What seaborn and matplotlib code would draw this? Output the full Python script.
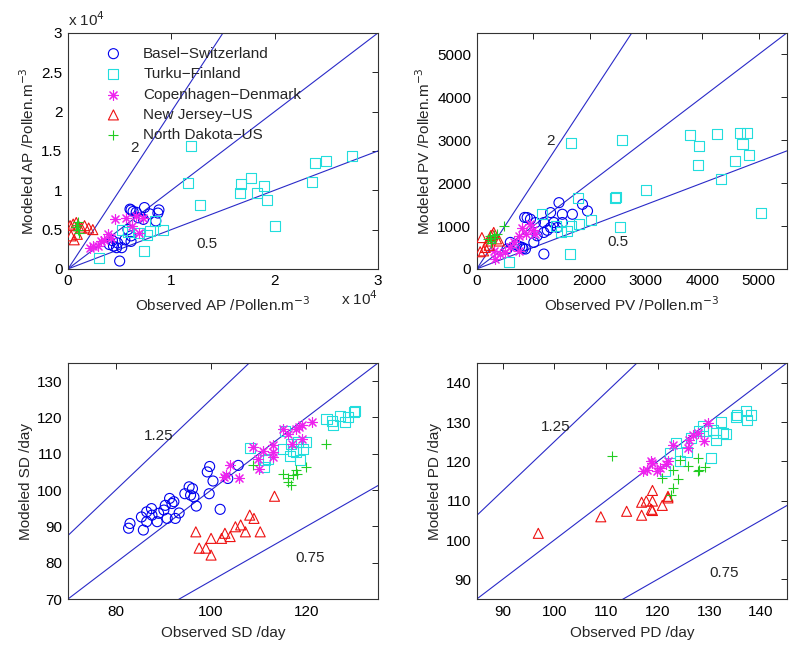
import numpy as np
import pandas as pd
import seaborn as sns
import matplotlib
matplotlib.use("Agg")
import matplotlib.pyplot as plt
from matplotlib.ticker import FuncFormatter, FixedLocator

sns.set_theme(style="white")
plt.rcParams['font.family'] = ['Liberation Sans', 'DejaVu Sans']

sites = ["Basel\u2212Switzerland", "Turku\u2212Finland", "Copenhagen\u2212Denmark",
         "New Jersey\u2212US", "North Dakota\u2212US"]

# ---------------- AP (pollen m^-3, values in units of 1e4) ----------------
ap_basel_x = [0.61, 0.63, 0.60, 0.74, 0.88, 0.87, 0.68, 0.73, 0.85, 0.58, 0.61, 0.44, 0.52, 0.48, 0.50, 0.40, 0.55, 0.47, 0.61, 0.43, 0.66, 0.79]
ap_basel_y = [0.75, 0.73, 0.76, 0.78, 0.75, 0.71, 0.65, 0.63, 0.61, 0.50, 0.42, 0.29, 0.27, 0.33, 0.10, 0.31, 0.37, 0.27, 0.35, 0.36, 0.72, 0.70]
ap_turku_x = [1.19, 1.16, 1.28, 1.66, 1.67, 1.77, 1.83, 1.90, 1.93, 2.00, 2.36, 2.39, 2.50, 2.75, 0.74, 0.30, 0.92, 0.84, 0.79, 0.69, 0.52, 0.58, 0.76]
ap_turku_y = [1.56, 1.09, 0.81, 0.97, 1.08, 1.15, 0.97, 1.05, 0.88, 0.54, 1.10, 1.35, 1.37, 1.44, 0.23, 0.14, 0.50, 0.61, 0.48, 0.46, 0.50, 0.47, 0.43]
ap_copen_x = [0.45, 0.56, 0.66, 0.73, 0.69, 0.39, 0.35, 0.32, 0.29, 0.21, 0.24, 0.42, 0.62]
ap_copen_y = [0.63, 0.65, 0.67, 0.65, 0.46, 0.44, 0.37, 0.35, 0.29, 0.27, 0.29, 0.39, 0.55]
ap_nj_x = [0.02, 0.05, 0.08, 0.10, 0.13, 0.16, 0.20, 0.24, 0.03, 0.06, 0.09]
ap_nj_y = [0.55, 0.57, 0.59, 0.55, 0.52, 0.55, 0.52, 0.50, 0.42, 0.37, 0.44]
ap_nd_x = [0.09, 0.10, 0.11, 0.08, 0.10]
ap_nd_y = [0.56, 0.50, 0.46, 0.53, 0.60]

# ---------------- PV ----------------
pv_basel_x = [1458, 1875, 1964, 1696, 1518, 1309, 893, 952, 1190, 1369, 1518, 1309, 1430, 1071, 1012, 803, 863, 760, 536, 1190, 595, 1190, 850, 1250, 1040, 700, 820]
pv_basel_y = [1544, 1505, 1351, 1274, 1274, 1313, 1197, 1158, 1081, 1081, 1081, 965, 965, 772, 618, 502, 464, 520, 463, 347, 618, 850, 1200, 900, 1080, 560, 470]
pv_turku_x = [1679, 2577, 3780, 4268, 3946, 3917, 4661, 4792, 4714, 4821, 4583, 4333, 5036, 3006, 2458, 2470, 2542, 1798, 2024, 1815, 1655, 565, 1160, 1667, 1607, 1400, 1500]
pv_turku_y = [2934, 3012, 3127, 3143, 2857, 2432, 3166, 3166, 2911, 2664, 2525, 2085, 1313, 1830, 1660, 1670, 988, 1660, 1143, 1042, 347, 154, 1274, 1004, 888, 1000, 850]
pv_copen_x = [803, 952, 1041, 880, 744, 655, 595, 417, 327, 298, 744, 1000, 500]
pv_copen_y = [965, 1042, 811, 820, 772, 618, 502, 347, 232, 425, 425, 900, 400]
pv_nj_x = [90, 60, 150, 200, 250, 280, 300, 350, 400, 120, 220]
pv_nj_y = [730, 400, 500, 650, 780, 800, 850, 700, 650, 420, 550]
pv_nd_x = [480, 200, 230, 260, 300, 320, 350, 250]
pv_nd_y = [1000, 700, 760, 640, 780, 720, 820, 600]

# ---------------- SD (day) ----------------
sd_basel_x = [82.7, 83.0, 85.8, 85.4, 86.5, 86.5, 87.5, 87.6, 88.7, 89.0, 90.1, 90.4, 90.8, 91.3, 91.8, 92.2, 92.5, 93.3, 94.5, 95.4, 95.7, 96.1, 96.4, 96.9, 99.2, 99.7, 100.4, 99.6, 101.9, 105.7, 103.5]
sd_basel_y = [89.5, 90.8, 89.0, 92.6, 94.0, 91.3, 94.9, 93.1, 91.3, 93.6, 94.5, 95.8, 92.2, 97.7, 96.3, 96.8, 92.2, 93.7, 99.0, 100.9, 98.6, 100.4, 98.1, 95.6, 105.0, 106.5, 102.5, 99.0, 94.7, 106.8, 103.2]
sd_turku_x = [108.2, 111.9, 111.4, 111.1, 115.5, 115.1, 116.8, 117.2, 118.2, 119.3, 120.0, 118.6, 116.5, 117.8, 124.2, 125.6, 125.3, 127.0, 128.1, 128.8, 129.9, 130.2]
sd_turku_y = [111.6, 108.6, 108.2, 106.3, 116.4, 111.4, 112.7, 110.9, 113.2, 111.4, 113.2, 108.2, 109.5, 110.4, 119.6, 117.8, 119.1, 120.5, 118.7, 120.2, 121.4, 121.9]
sd_copen_x = [108.7, 110.8, 109.8, 110.1, 113.0, 113.0, 113.0, 115.1, 116.2, 117.9, 118.5, 119.0, 121.1, 119.0, 117.0, 104.0, 102.7, 103.1, 105.9]
sd_copen_y = [111.8, 110.9, 108.6, 105.9, 112.3, 109.1, 110.6, 116.7, 115.5, 116.9, 117.3, 117.8, 118.7, 114.1, 112.6, 106.8, 103.6, 104.1, 103.2]
sd_nj_x = [96.8, 97.5, 98.9, 100.0, 100.0, 102.2, 102.9, 104.0, 105.1, 106.2, 107.2, 108.1, 109.0, 110.3, 113.3]
sd_nj_y = [88.5, 84.0, 84.0, 82.1, 86.7, 86.7, 88.1, 87.2, 89.9, 90.4, 88.5, 93.1, 92.2, 88.5, 98.3]
sd_nd_x = [108.7, 115.1, 116.1, 116.1, 116.8, 117.2, 117.9, 118.0, 120.0, 124.0]
sd_nd_y = [106.8, 104.5, 103.2, 102.2, 101.3, 104.1, 105.4, 104.5, 106.3, 112.7]

# ---------------- PD (day) ----------------
pd_basel_x = []
pd_basel_y = []
pd_turku_x = [123.6, 122.3, 121.4, 124.3, 125.6, 128.8, 129.4, 130.7, 131.3, 131.3, 132.6, 132.3, 133.3, 130.4, 135.1, 135.3, 137.1, 137.3, 138.1, 128.0, 126.5]
pd_turku_y = [124.7, 122.1, 117.5, 120.0, 122.5, 128.9, 127.6, 128.0, 127.2, 125.5, 127.2, 129.9, 126.9, 120.9, 131.3, 131.9, 132.7, 130.6, 131.8, 127.8, 126.0]
pd_copen_x = [117.1, 118.8, 119.0, 119.8, 121.7, 122.0, 122.9, 125.8, 126.1, 126.8, 127.8, 129.0, 129.7, 118.0, 120.5]
pd_copen_y = [117.5, 120.2, 119.5, 117.5, 119.2, 120.0, 124.2, 123.4, 125.5, 126.8, 127.2, 125.1, 129.7, 117.8, 118.3]
pd_nj_x = [96.9, 109.0, 114.0, 116.9, 116.9, 117.8, 119.0, 119.0, 118.8, 119.0, 120.9, 122.0, 122.0]
pd_nj_y = [101.7, 105.9, 107.3, 106.3, 109.6, 109.9, 112.6, 109.9, 107.8, 107.5, 108.8, 111.1, 110.7]
pd_nd_x = [111.1, 120.8, 123.0, 124.3, 125.9, 127.8, 128.1, 124.0, 123.0, 122.5, 127.8, 129.1]
pd_nd_y = [121.3, 115.8, 117.9, 120.4, 118.7, 120.9, 117.9, 115.4, 113.3, 111.5, 117.5, 118.6]

colors = ['#0000ee', '#22dddd', '#ee22ee', '#ee1111', '#22cc22']
markers = ['o', 's', (8, 2, 0), '^', '+']
filled = [True, True, False, True, False]
line_col = '#2a2ac8'

fig = plt.figure(figsize=(8, 6.48), dpi=100)
W, H = 0.3875, 0.3642
ax_tl = fig.add_axes([0.085, 0.585, W, H])
ax_tr = fig.add_axes([0.596, 0.585, W, H])
ax_bl = fig.add_axes([0.085, 0.0756, W, H])
ax_br = fig.add_axes([0.596, 0.0756, W, H])


def draw(ax, data, scale=1.0, ms=52):
    for i, (xs, ys) in enumerate(data):
        if len(xs) == 0:
            continue
        df = pd.DataFrame({"x": np.array(xs) * scale, "y": np.array(ys) * scale})
        if filled[i]:
            sns.scatterplot(data=df, x="x", y="y", ax=ax, marker=markers[i], s=ms,
                            color=colors[i], facecolor='none', edgecolor=colors[i],
                            linewidth=0.8, label=sites[i], zorder=3)
        else:
            sns.scatterplot(data=df, x="x", y="y", ax=ax, marker=markers[i], s=ms,
                            color=colors[i], linewidth=0.8, label=sites[i], zorder=3)


def ratio_lines(ax, lo, hi, ratios):
    xx = np.array([lo, hi])
    for r in ratios:
        ax.plot(xx, r * xx, color=line_col, lw=0.8, zorder=2)


def style(ax, xl, yl, xlim, ylim, xt, yt):
    ax.set_xlim(*xlim)
    ax.set_ylim(*ylim)
    ax.xaxis.set_major_locator(FixedLocator(xt))
    ax.yaxis.set_major_locator(FixedLocator(yt))
    ax.set_xlabel(xl, fontsize=11, labelpad=5)
    ax.set_ylabel(yl, fontsize=11, labelpad=3)
    ax.tick_params(direction='in', length=4, width=0.6, top=True, right=True,
                   labelsize=11, colors='black', pad=4)
    for sp in ax.spines.values():
        sp.set_color('#333333')
        sp.set_linewidth(0.8)
    ax.grid(False)


# Top-left AP
draw(ax_tl, [(ap_basel_x, ap_basel_y), (ap_turku_x, ap_turku_y), (ap_copen_x, ap_copen_y),
             (ap_nj_x, ap_nj_y), (ap_nd_x, ap_nd_y)], scale=1e4)
ratio_lines(ax_tl, 0, 30000, [2, 1, 0.5])
style(ax_tl, r"Observed AP /Pollen.m$^{-3}$", r"Modeled AP /Pollen.m$^{-3}$",
      (0, 30000), (0, 30000), [0, 10000, 20000, 30000],
      [0, 5000, 10000, 15000, 20000, 25000, 30000])
fmt = FuncFormatter(lambda v, p: ('%g' % (v / 1e4)))
ax_tl.xaxis.set_major_formatter(fmt)
ax_tl.yaxis.set_major_formatter(fmt)
ax_tl.text(0.0, 1.015, r"x 10$^4$", transform=ax_tl.transAxes, fontsize=11, ha='left', va='bottom')
ax_tl.text(1.0, -0.085, r"x 10$^4$", transform=ax_tl.transAxes, fontsize=11, ha='right', va='top')
ax_tl.text(6400, 15400, "2", fontsize=11, ha='center', va='center')
ax_tl.text(13400, 3200, "0.5", fontsize=11, ha='center', va='center')
leg = ax_tl.legend(loc='upper left', bbox_to_anchor=(0.075, 0.987), frameon=False, fontsize=11,
                   handletextpad=1.2, labelspacing=0.42, borderaxespad=0.3, handlelength=1.5)

# Top-right PV
draw(ax_tr, [(pv_basel_x, pv_basel_y), (pv_turku_x, pv_turku_y), (pv_copen_x, pv_copen_y),
             (pv_nj_x, pv_nj_y), (pv_nd_x, pv_nd_y)])
ratio_lines(ax_tr, 0, 5500, [2, 1, 0.5])
style(ax_tr, r"Observed PV /Pollen.m$^{-3}$", r"Modeled PV /Pollen.m$^{-3}$",
      (0, 5500), (0, 5500), [0, 1000, 2000, 3000, 4000, 5000], [0, 1000, 2000, 3000, 4000, 5000])
ax_tr.text(1300, 2970, "2", fontsize=11, ha='center', va='center')
ax_tr.text(2500, 630, "0.5", fontsize=11, ha='center', va='center')
ax_tr.get_legend().remove()

# Bottom-left SD
draw(ax_bl, [(sd_basel_x, sd_basel_y), (sd_turku_x, sd_turku_y), (sd_copen_x, sd_copen_y),
             (sd_nj_x, sd_nj_y), (sd_nd_x, sd_nd_y)])
ratio_lines(ax_bl, 50, 135, [1.25, 1, 0.75])
style(ax_bl, "Observed SD /day", "Modeled SD /day", (70, 135), (70, 135),
      [80, 100, 120], [70, 80, 90, 100, 110, 120, 130])
ax_bl.text(89.0, 115.0, "1.25", fontsize=11, ha='center', va='center')
ax_bl.text(120.7, 81.2, "0.75", fontsize=11, ha='center', va='center')
ax_bl.get_legend().remove()

# Bottom-right PD
draw(ax_br, [(pd_basel_x, pd_basel_y), (pd_turku_x, pd_turku_y), (pd_copen_x, pd_copen_y),
             (pd_nj_x, pd_nj_y), (pd_nd_x, pd_nd_y)])
ratio_lines(ax_br, 60, 145, [1.25, 1, 0.75])
style(ax_br, "Observed PD /day", "Modeled PD /day", (85, 145), (85, 145),
      [90, 100, 110, 120, 130, 140], [90, 100, 110, 120, 130, 140])
ax_br.text(100.2, 128.7, "1.25", fontsize=11, ha='center', va='center')
ax_br.text(132.8, 91.5, "0.75", fontsize=11, ha='center', va='center')
ax_br.get_legend().remove()

fig.savefig("out.png", dpi=100)
